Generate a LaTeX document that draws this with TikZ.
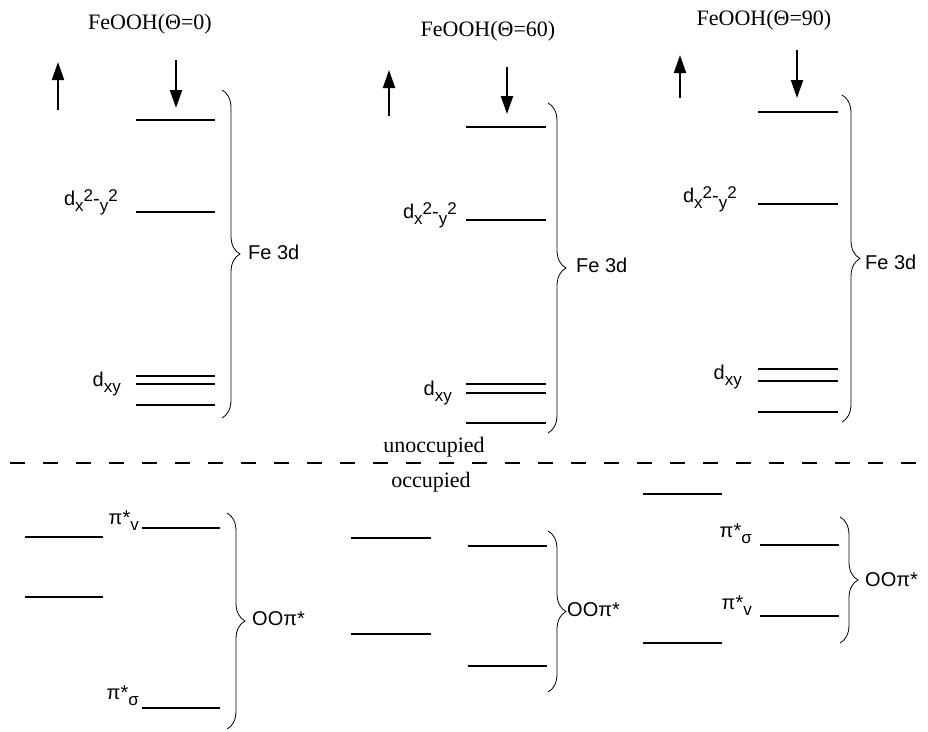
\documentclass[tikz,border=0pt]{standalone}
\usepackage{fontspec}
\setmainfont{Liberation Serif}
\newfontfamily\lblfont{Liberation Sans}
\usetikzlibrary{arrows.meta,decorations.pathreplacing}
\newcommand{\lo}[1]{\raisebox{-0.55ex}{\fontsize{17}{17}\selectfont #1}}
\newcommand{\hi}[1]{\raisebox{0.4ex}{\fontsize{17}{17}\selectfont #1}}

\begin{document}
\begin{tikzpicture}[x=1pt,y=-1pt,
  lvl/.style={line width=2.4pt},
  spin/.style={line width=2pt,-{Triangle[length=18pt,width=12pt]}},
  fbr/.style={decorate,decoration={brace,amplitude=18pt},line width=0.8pt},
  hdr/.style={inner sep=0pt,font=\fontsize{22}{22}\selectfont},
  lbl/.style={inner sep=0pt,font=\lblfont\fontsize{20}{20}\selectfont}]
  \useasboundingbox (0,0) rectangle (928,731);
  % headers and spins
  \node[hdr](h0) at (150,24){FeOOH(Θ=0)};
  \node[hdr](h60) at (488,31){FeOOH(Θ=60)};
  \node[hdr](h90) at (764,20){FeOOH(Θ=90)};
  \draw[spin] (58,110) -- (58,62);   \draw[spin] (176,60) -- (176,108);
  \draw[spin] (389,116) -- (389,70); \draw[spin] (507,67) -- (507,114);
  \draw[spin] (680,98) -- (680,55);  \draw[spin] (797,50) -- (797,98);
  % Fe 3d levels
  \foreach \y in {120,212,376,384,405} \draw[lvl] (136,\y) -- (215,\y);
  \foreach \y in {127,220,384,393,423} \draw[lvl] (466,\y) -- (546,\y);
  \foreach \y in {112,204,369,381,412} \draw[lvl] (758,\y) -- (838,\y);
  \node[lbl,anchor=east](dx0) at (118,202){d\lo{x}\hi{2}-\lo{y}\hi{2}};
  \node[lbl,anchor=east](dxy0) at (121,384){d\lo{xy}};
  \node[lbl,anchor=east](dx60) at (457,215){d\lo{x}\hi{2}-\lo{y}\hi{2}};
  \node[lbl,anchor=east](dxy60) at (452,393){d\lo{xy}};
  \node[lbl,anchor=east](dx90) at (737,199){d\lo{x}\hi{2}-\lo{y}\hi{2}};
  \node[lbl,anchor=east](dxy90) at (742,377){d\lo{xy}};
  \draw[fbr] (222,90) -- (222,418);
  \draw[fbr] (548,103) -- (548,433);
  \draw[fbr] (842,95) -- (842,422);
  \node[lbl,anchor=west](fe0) at (248,252){Fe 3d};
  \node[lbl,anchor=west](fe60) at (576,265){Fe 3d};
  \node[lbl,anchor=west](fe90) at (865,262){Fe 3d};
  % Fermi line
  \node[hdr](unocc) at (434,447){unoccupied};
  \draw[line width=2pt,dash pattern=on 15pt off 18pt] (10,463) -- (928,463);
  \node[hdr](occ) at (431,482){occupied};
  % OO pi* levels
  \foreach \y in {537,597} \draw[lvl] (25,\y) -- (103,\y);
  \foreach \y in {528,708} \draw[lvl] (142,\y) -- (220,\y);
  \foreach \y in {538,634} \draw[lvl] (351,\y) -- (431,\y);
  \foreach \y in {546,666} \draw[lvl] (468,\y) -- (547,\y);
  \foreach \y in {494,643} \draw[lvl] (643,\y) -- (722,\y);
  \foreach \y in {545,616} \draw[lvl] (760,\y) -- (839,\y);
  \node[lbl,anchor=east](pv0) at (139,521){π*\lo{v}};
  \node[lbl,anchor=east](ps0) at (139,696){π*\lo{σ}};
  \node[lbl,anchor=east](ps90) at (752,534){π*\lo{σ}};
  \node[lbl,anchor=east](pv90) at (752,606){π*\lo{v}};
  \draw[fbr] (227,513) -- (227,729);
  \draw[fbr] (548,531) -- (548,692);
  \draw[fbr] (840,517) -- (840,643);
  \node[lbl,anchor=west](oo0) at (252,619){OOπ*};
  \node[lbl,anchor=west](oo60) at (567,610){OOπ*};
  \node[lbl,anchor=west](oo90) at (865,580){OOπ*};
\end{tikzpicture}
\end{document}
